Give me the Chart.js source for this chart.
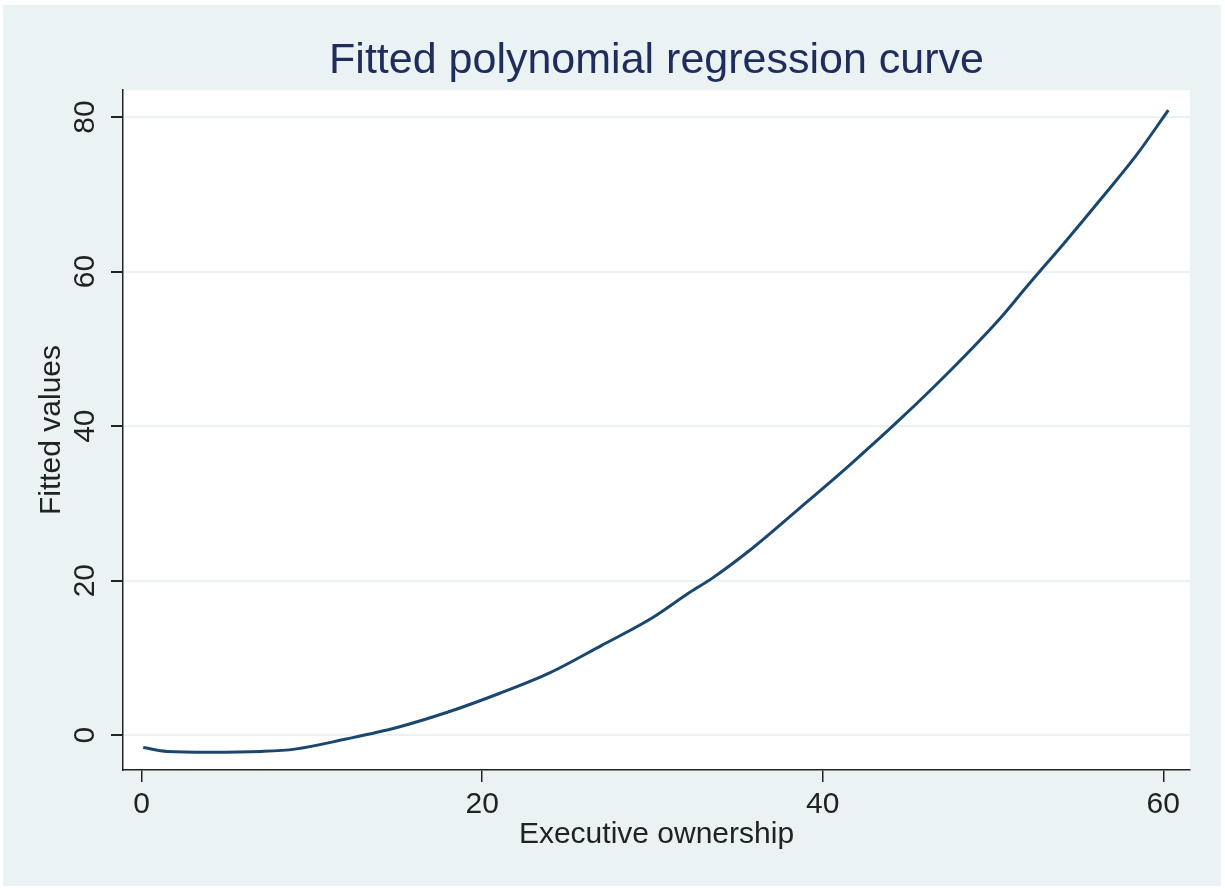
<!DOCTYPE html>
<html>
<head>
<meta charset="utf-8">
<script src="https://cdn.jsdelivr.net/npm/chart.js@4/dist/chart.umd.min.js"></script>
<style>
html, body { margin: 0; padding: 0; background: #ffffff; }
#wrap { width: 1225px; height: 888px; }
</style>
</head>
<body>
<div id="wrap"><canvas id="chart" width="1225" height="888"></canvas></div>
<script>
// ---------------------
// data
// ---------------------
let ownership = [0.1, 1.5, 4, 7, 9, 12, 15, 18, 21, 24, 27, 30, 32.2, 33.5, 35.7, 38.6, 41.6, 44.5, 47.5, 50.4, 52, 54.3, 56.3, 58.4, 60.3];
let fitted = [-1.6, -2.1, -2.2, -2.1, -1.8, -0.5, 1.0, 3.0, 5.4, 8.1, 11.6, 15.2, 18.5, 20.3, 23.9, 29.3, 35.0, 40.8, 47.2, 53.9, 58.1, 64.0, 69.3, 75.0, 80.9];
let xTicks = [0, 20, 40, 60];
let yTicks = [0, 20, 40, 60, 80];

let font = "'Liberation Sans', Arial, sans-serif";
let bgColor = "#eaf2f3";
let inkColor = "#222222";

// stata-like backdrop: light panel, white plot region
let backdrop = {
id: "backdrop",
beforeDraw(chart){
let ctx = chart.ctx;
let a = chart.chartArea;
ctx.save();
ctx.fillStyle = "#ffffff";
ctx.fillRect(0, 0, chart.width, chart.height);
ctx.fillStyle = bgColor;
ctx.fillRect(3, 5, 1218, 881);
ctx.fillStyle = "#ffffff";
ctx.fillRect(a.left, a.top, a.right - a.left, a.bottom - a.top);
ctx.restore();
}
};

let points = ownership.map((x, i) => ({x: x, y: fitted[i]}));

new Chart(document.getElementById("chart"), {
type: "scatter",
data: {
datasets: [{
label: "Fitted values",
data: points,
showLine: true,
borderColor: "#1a476f",
borderWidth: 3,
pointRadius: 0,
cubicInterpolationMode: "monotone"
}]
},
options: {
responsive: false,
animation: false,
layout: { padding: { left: 0, right: 35, top: 0, bottom: 0 } },
plugins: {
legend: { display: false },
tooltip: { enabled: false },
title: {
display: true,
text: "Fitted polynomial regression curve",
color: "#1e2d5c",
fullSize: false,
font: { family: font, size: 43, weight: "normal", lineHeight: 1.2 },
padding: { top: 35, bottom: 3.4 }
}
},
scales: {
x: {
type: "linear",
min: -1.09,
max: 61.57,
afterBuildTicks: axis => { axis.ticks = xTicks.map(v => ({value: v})); },
afterFit: scale => { scale.height = 118; },
border: { display: true, color: inkColor, width: 1.5 },
grid: { drawOnChartArea: false, color: inkColor, tickColor: inkColor, tickLength: 12, lineWidth: 1.5 },
ticks: { color: inkColor, padding: 5, maxRotation: 0, autoSkip: false, font: { family: font, size: 30 } },
title: {
display: true,
text: "Executive ownership",
color: inkColor,
font: { family: font, size: 30 },
padding: { top: 0, bottom: 35 }
}
},
y: {
type: "linear",
min: -4.5,
max: 83.5,
afterBuildTicks: axis => { axis.ticks = yTicks.map(v => ({value: v})); },
afterFit: scale => { scale.width = 123; },
border: { display: true, color: inkColor, width: 1.5 },
grid: { color: bgColor, lineWidth: 2, tickColor: inkColor, tickLength: 12 },
ticks: { color: inkColor, padding: 9, minRotation: 90, maxRotation: 90, crossAlign: "center", autoSkip: false, font: { family: font, size: 30 } },
title: {
display: true,
text: "Fitted values",
color: inkColor,
font: { family: font, size: 30 },
padding: { top: 34, bottom: 0 }
}
}
}
},
plugins: [backdrop]
});
</script>
</body>
</html>
